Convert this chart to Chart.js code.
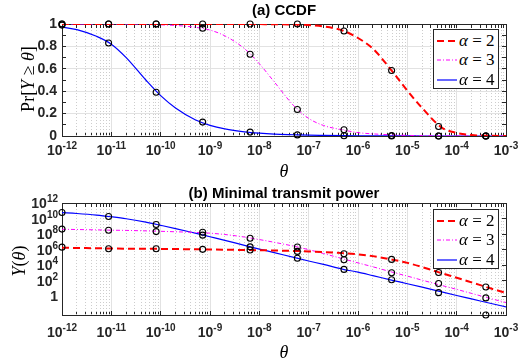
<!DOCTYPE html>
<html lang="en">
<head>
<meta charset="utf-8">
<title>CCDF and minimal transmit power</title>
<script src="https://cdn.jsdelivr.net/npm/chart.js@4/dist/chart.umd.min.js"></script>
<style>
  html, body { margin: 0; padding: 0; background: #fff; }
  #fig { position: relative; width: 530px; height: 364px; overflow: hidden; }
  #fig canvas { position: absolute; left: 0; }
  .ylab { position: absolute; font-family: 'Liberation Serif', 'DejaVu Serif', serif; color: #000; white-space: nowrap; transform: translate(-50%, -50%) rotate(-90deg); }
  .legend { position: absolute; left: 433px; width: 66px; height: 60px; box-sizing: border-box; border: 1px solid #262626; background: #fff; padding: 1px 0 0 3px; }
  .legend div { height: 19.5px; display: flex; align-items: center; }
  .legend svg { width: 20px; height: 6px; margin-right: 2px; flex: none; }
  .legend span { font-family: 'Liberation Serif', 'DejaVu Serif', serif; font-size: 17px; color: #000; white-space: nowrap; }
</style>
</head>
<body>
<div id="fig">
  <canvas id="chart-a" width="530" height="182" style="top:0"></canvas>
  <canvas id="chart-b" width="530" height="182" style="top:182px"></canvas>
  <div class="ylab" style="left:28px; top:79px; font-size:18px">Pr[<i>Y</i> ≥ <i>θ</i>]</div>
  <div class="ylab" style="left:19px; top:261px; font-size:18px"><i>Y</i>(<i>θ</i>)</div>
  <div class="legend" id="legend-a" style="top:29px"></div>
  <div class="legend" id="legend-b" style="top:209px"></div>
</div>
<script>
/* analytic curves at these theta values */
var thetaGrid = [1e-12, 2e-12, 5e-12, 1e-11, 2e-11, 5e-11, 1e-10, 2e-10, 5e-10, 1e-9, 2e-9, 5e-9, 1e-8, 2e-8,
                 5e-8, 1e-7, 2e-7, 5e-7, 1e-6, 2e-6, 5e-6, 1e-5, 2e-5, 5e-5, 1e-4, 2e-4, 5e-4, 1e-3];

var ccdfAlpha2 = [1, 1, 1, 1, 1, 1, 1, 1, 1, 0.9999, 0.9998, 0.9995, 0.999, 0.998,
                  0.995, 0.99, 0.978, 0.94, 0.875, 0.78, 0.575, 0.405, 0.25, 0.075, 0.028, 0.009, 0.002, 0];
var ccdfAlpha3 = [1, 1, 1, 1, 1, 1, 0.993, 0.987, 0.971, 0.946, 0.894, 0.78, 0.645, 0.484,
                  0.27, 0.157, 0.094, 0.054, 0.03, 0.019, 0.01, 0.0055, 0.003, 0.0015, 0.0008, 0.0004, 0.0002, 0.0001];
var ccdfAlpha4 = [0.972, 0.95, 0.89, 0.82, 0.70, 0.50, 0.36, 0.25, 0.145, 0.095, 0.063, 0.037, 0.025, 0.017,
                  0.011, 0.007, 0.005, 0.003, 0.002, 0.0013, 0.0007, 0.0004, 0.0002, 0.0001, 0, 0, 0, 0];

var powerAlpha2 = [1.78e6, 1.66e6, 1.51e6, 1.41e6, 1.35e6, 1.29e6, 1.26e6, 1.2e6, 1.12e6, 1.05e6, 9.8e5, 9.1e5, 8.5e5, 7.9e5,
                   6.9e5, 6.0e5, 5.0e5, 3.6e5, 2.5e5, 1.48e5, 5.2e4, 2.0e4, 5.8e3, 930, 250, 63, 10, 2.8];
var powerAlpha3 = [4.2e8, 3.9e8, 3.5e8, 3.2e8, 3.0e8, 2.6e8, 2.3e8, 2.0e8, 1.66e8, 1.32e8, 8.9e7, 4.2e7, 2.0e7, 8.9e6,
                   2.8e6, 1.0e6, 3.2e5, 6.6e4, 2.0e4, 6.3e3, 1.26e3, 400, 120, 25, 7.9, 2.4, 0.5, 0.16];
var powerAlpha4 = [5.9e10, 4.5e10, 2.8e10, 1.7e10, 9.5e9, 3.4e9, 1.35e9, 5.2e8, 1.32e8, 4.6e7, 1.6e7, 3.6e6, 1.2e6, 4.2e5,
                   1.0e5, 3.5e4, 1.26e4, 3.0e3, 1.3e3, 460, 115, 42, 15, 3.7, 1.3, 0.47, 0.12, 0.044];

/* simulated points (black circles) */
var thetaSim = [1e-12, 8.8e-12, 8.1e-11, 7.1e-10, 6.5e-9, 5.9e-8, 5.2e-7, 4.8e-6, 4.3e-5, 3.9e-4];
var simCcdfAlpha2 = [1, 1, 1, 1, 1, 1, 0.938, 0.585, 0.085, 0];
var simCcdfAlpha3 = [1, 1, 1, 0.962, 0.73, 0.236, 0.056, 0.004, 0, 0];
var simCcdfAlpha4 = [0.99, 0.83, 0.39, 0.124, 0.035, 0.01, 0.002, 0, 0, 0];
var simPowerAlpha2 = [2.1e6, 1.3e6, 1.3e6, 1.1e6, 8.9e5, 6.0e5, 3.0e5, 5.6e4, 1.15e3, 16];
var simPowerAlpha3 = [4.4e8, 3.2e8, 2.1e8, 1.7e8, 3.0e7, 2.2e6, 5.0e4, 1.1e3, 45, 0.63];
var simPowerAlpha4 = [5.9e10, 1.8e10, 1.7e9, 7.4e7, 2.3e6, 7.9e4, 2.9e3, 138, 3.0, 0.004];

/* axes and tick labels (base + superscript) */
var xMin = 1e-12, xMax = 1e-3;
var xMajorTicks = [1e-12, 1e-11, 1e-10, 1e-9, 1e-8, 1e-7, 1e-6, 1e-5, 1e-4, 1e-3];
var xTickBase = ['10', '10', '10', '10', '10', '10', '10', '10', '10', '10'];
var xTickExp = ['-12', '-11', '-10', '-9', '-8', '-7', '-6', '-5', '-4', '-3'];
var yTicksA = [0, 0.2, 0.4, 0.6, 0.8, 1];
var yTickLabelsA = ['0', '0.2', '0.4', '0.6', '0.8', '1'];
var yMinorTicksA = [0.1, 0.3, 0.5, 0.7, 0.9];
var yMinB = 0.004, yMaxB = 1e12;
var yTicksB = [1, 1e2, 1e4, 1e6, 1e8, 1e10, 1e12];
var yTickBaseB = ['1', '10', '10', '10', '10', '10', '10'];
var yTickExpB = ['', '2', '4', '6', '8', '10', '12'];

var alphaValues = [2, 3, 4];
var seriesColors = ['#ff0000', '#ff00ff', '#0000ff'];
var seriesDash = [[7, 4], [4, 2, 1, 2], []];
var seriesWidth = [2, 1, 1.2];

var AXIS = '#262626';
var GRID = '#e2e2e2';
var GRID_MINOR = '#cdcdcd';
var SANS = "'Liberation Sans', Arial, sans-serif";
var TICK_FONT = { family: SANS, size: 14, weight: 'bold' };
var TITLE_FONT = { family: SANS, size: 15, weight: 'bold' };
var THETA_FONT = { family: "'Liberation Serif', serif", size: 18, style: 'italic', weight: 'normal' };
var BASE_CSS = 'bold 14px ' + SANS;
var EXP_CSS = 'bold 10px ' + SANS;
var NONE = 'rgba(0,0,0,0)';

function minorTicks(majors) {
	var out = [];
	for (var i = 0; i < majors.length - 1; i++) {
		for (var m = 2; m <= 9; m++) {
			out.push(majors[i] * m);
		}
	}
	return out;
}
var xMinorTicks = minorTicks(xMajorTicks);

function setTicks(major, minor) {
	return function (scale) {
		var t = [];
		major.forEach(function (v) { t.push({ value: v, major: true }); });
		minor.forEach(function (v) { t.push({ value: v, major: false }); });
		t.sort(function (a, b) { return a.value - b.value; });
		scale.ticks = t;
	};
}
function labelOf(values, labels) {
	return function (value) {
		var i = values.indexOf(value);
		return i < 0 ? '' : labels[i];
	};
}
function majorColor(color) {
	return function (c) { return c.tick && c.tick.major ? color : NONE; };
}
function fixHeight(h) { return function (s) { s.height = h; }; }
function fixWidth(w) { return function (s) { s.width = w; }; }

/* tick labels like 10^-12, placed with the scale's own pixel mapping */
var powerTicks = {
	id: 'powerTicks',
	afterDraw: function (chart, args, opts) {
		var ctx = chart.ctx;
		var area = chart.chartArea;
		ctx.save();
		ctx.fillStyle = AXIS;
		ctx.textAlign = 'left';
		ctx.textBaseline = 'alphabetic';
		opts.axes.forEach(function (ax) {
			var scale = chart.scales[ax.id];
			ax.values.forEach(function (v, i) {
				var base = ax.bases[i], exp = ax.exps[i];
				ctx.font = BASE_CSS;
				var wb = ctx.measureText(base).width;
				ctx.font = EXP_CSS;
				var we = exp ? ctx.measureText(exp).width : 0;
				var x, y;
				if (scale.isHorizontal()) {
					x = scale.getPixelForValue(v) - (wb + we) / 2;
					y = area.bottom + ax.gap;
				} else {
					x = area.left - ax.gap - wb - we;
					y = scale.getPixelForValue(v) + 5;
				}
				ctx.font = BASE_CSS;
				ctx.fillText(base, x, y);
				if (exp) {
					ctx.font = EXP_CSS;
					ctx.fillText(exp, x + wb, y - 6);
				}
			});
		});
		ctx.restore();
	}
};

function buildScales(p) {
	return {
		x: {
			type: 'logarithmic', position: 'bottom', min: xMin, max: xMax,
			afterBuildTicks: setTicks(xMajorTicks, xMinorTicks),
			afterFit: fixHeight(p.xHeight),
			ticks: { display: false, autoSkip: false },
			grid: { color: majorColor(GRID), lineWidth: 1, tickColor: AXIS, tickLength: -4 },
			border: { color: AXIS, width: 1 },
			title: { display: true, text: 'θ', color: '#000', font: THETA_FONT, padding: { top: 0, bottom: p.thetaPad } }
		},
		xDots: {
			type: 'logarithmic', position: 'bottom', min: xMin, max: xMax,
			afterBuildTicks: setTicks([], xMinorTicks),
			afterFit: fixHeight(0),
			ticks: { display: false, autoSkip: false },
			grid: { color: GRID_MINOR, lineWidth: 1, drawTicks: false },
			border: { display: false, dash: [1, 2] }
		},
		xTop: {
			type: 'logarithmic', position: 'top', min: xMin, max: xMax,
			afterBuildTicks: setTicks(xMajorTicks, xMinorTicks),
			afterFit: fixHeight(0),
			ticks: { display: false, autoSkip: false },
			grid: { drawOnChartArea: false, tickColor: AXIS, tickLength: -4 },
			border: { color: AXIS, width: 1 }
		},
		y: {
			type: p.yType, position: 'left', min: p.yMin, max: p.yMax,
			afterBuildTicks: setTicks(p.yMajor, p.yMinor),
			afterFit: fixWidth(62),
			ticks: { display: p.yLabels !== null, autoSkip: false, padding: 9, color: AXIS, font: TICK_FONT,
				callback: labelOf(p.yMajor, p.yLabels || []) },
			grid: { color: majorColor(GRID), lineWidth: 1, tickColor: AXIS, tickLength: -4 },
			border: { color: AXIS, width: 1 }
		},
		yRight: {
			type: p.yType, position: 'right', min: p.yMin, max: p.yMax,
			afterBuildTicks: setTicks(p.yMajor, p.yMinor),
			afterFit: fixWidth(0),
			ticks: { display: false, autoSkip: false },
			grid: { drawOnChartArea: false, tickColor: AXIS, tickLength: -4 },
			border: { color: AXIS, width: 1 }
		}
	};
}

function curve(ys, k) {
	return {
		label: 'α = ' + alphaValues[k],
		data: thetaGrid.map(function (t, i) { return { x: t, y: ys[i] }; }),
		showLine: true,
		borderColor: seriesColors[k],
		borderWidth: seriesWidth[k],
		borderDash: seriesDash[k],
		pointRadius: 0,
		cubicInterpolationMode: 'monotone',
		fill: false,
		order: k + 1
	};
}
function marks(ys) {
	return {
		label: 'sim',
		data: thetaSim.map(function (t, i) { return { x: t, y: ys[i] }; }),
		showLine: false,
		pointStyle: 'circle',
		pointRadius: 3,
		pointBorderWidth: 1.1,
		pointBorderColor: '#000',
		pointBackgroundColor: NONE,
		clip: false,
		order: 0
	};
}

function drawChart(id, title, titlePad, datasets, scales, powerAxes) {
	return new Chart(document.getElementById(id), {
		type: 'scatter',
		data: { datasets: datasets },
		plugins: [powerTicks],
		options: {
			responsive: false,
			animation: false,
			devicePixelRatio: 1,
			events: [],
			layout: { padding: { left: 0, right: 24, top: 0, bottom: 0 } },
			plugins: {
				legend: { display: false },
				tooltip: { enabled: false },
				/* centred over the axes, not the canvas */
				title: { display: true, fullSize: false, text: title, color: '#000', font: TITLE_FONT, padding: titlePad },
				powerTicks: { axes: powerAxes }
			},
			scales: scales
		}
	});
}

function drawLegend(id) {
	var box = document.getElementById(id);
	alphaValues.forEach(function (a, k) {
		var row = document.createElement('div');
		var dash = seriesDash[k].length ? ' stroke-dasharray="' + seriesDash[k].join(' ') + '"' : '';
		row.innerHTML = '<svg viewBox="0 0 20 6"><line x1="0" y1="3" x2="20" y2="3" stroke="' + seriesColors[k] +
			'" stroke-width="' + seriesWidth[k] + '"' + dash + '/></svg><span><i>α</i> = ' + a + '</span>';
		box.appendChild(row);
	});
}

function start() {
	drawChart('chart-a', '(a) CCDF', { top: 2, bottom: 4 }, [
		marks(simCcdfAlpha2), marks(simCcdfAlpha3), marks(simCcdfAlpha4),
		curve(ccdfAlpha2, 0), curve(ccdfAlpha3, 1), curve(ccdfAlpha4, 2)
	], buildScales({ xHeight: 46, thetaPad: -1, yType: 'linear', yMin: 0, yMax: 1,
		yMajor: yTicksA, yMinor: yMinorTicksA, yLabels: yTickLabelsA }),
	[{ id: 'x', values: xMajorTicks, bases: xTickBase, exps: xTickExp, gap: 19 }]);

	drawChart('chart-b', '(b) Minimal transmit power', { top: 3, bottom: 0 }, [
		marks(simPowerAlpha2), marks(simPowerAlpha3), marks(simPowerAlpha4),
		curve(powerAlpha2, 0), curve(powerAlpha3, 1), curve(powerAlpha4, 2)
	], buildScales({ xHeight: 49, thetaPad: 0, yType: 'logarithmic', yMin: yMinB, yMax: yMaxB,
		yMajor: yTicksB, yMinor: [], yLabels: null }),
	[{ id: 'x', values: xMajorTicks, bases: xTickBase, exps: xTickExp, gap: 21.5 },
	 { id: 'y', values: yTicksB, bases: yTickBaseB, exps: yTickExpB, gap: 4 }]);

	drawLegend('legend-a');
	drawLegend('legend-b');
}

start();
</script>
</body>
</html>
